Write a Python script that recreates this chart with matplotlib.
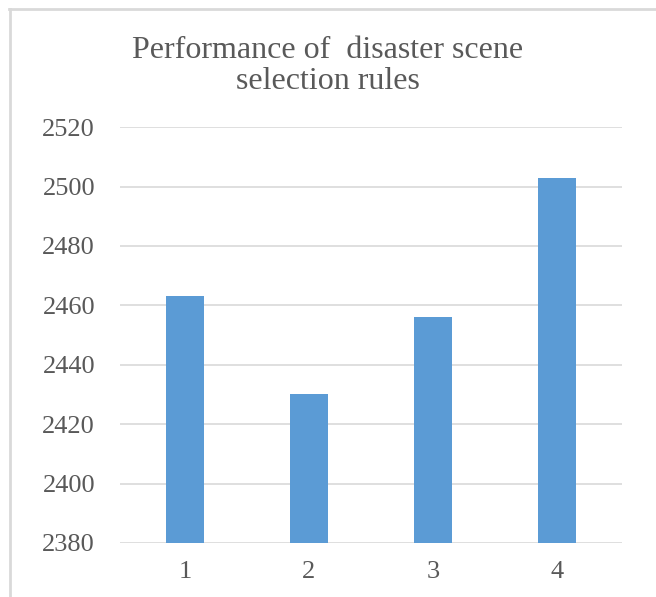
import numpy as np
import matplotlib
matplotlib.use("Agg")
from matplotlib import pyplot as plt
from matplotlib.lines import Line2D

# Scores for each selection rule
rules = ["1", "2", "3", "4"]
scores = [2463, 2430, 2456, 2503]
yticks = [2380, 2400, 2420, 2440, 2460, 2480, 2500, 2520]

plt.rcParams['font.family'] = ['Liberation Serif', 'DejaVu Serif']
textColor = '#595959'

fig = plt.figure(figsize=(6.56, 5.97), dpi=100)
ax = fig.add_axes([0.183, 0.0905, 0.765, 0.6965])

x = np.arange(len(rules))
ax.bar(x, scores, width=0.31, color='#5b9bd5', zorder=3)

ax.set_ylim(2380, 2520)
ax.set_xlim(-0.524, 3.524)
ax.set_yticks(yticks)
ax.set_xticks(x)
ax.set_xticklabels(rules)
ax.grid(axis='y', color='#d9d9d9', linewidth=1.2, zorder=0)
for s in ax.spines.values():
    s.set_visible(False)
ax.tick_params(axis='both', length=0, labelsize=19, colors=textColor)
ax.tick_params(axis='y', pad=18)
ax.tick_params(axis='x', pad=13)

fig.text(0.5, 0.89, "Performance of  disaster scene\nselection rules",
         ha='center', va='center', fontsize=23, color=textColor,
         linespacing=1.1)

# chart frame (top and left edges)
fig.add_artist(Line2D([0.014, 1.0], [0.985, 0.985], color='#d9d9d9', linewidth=2.0))
fig.add_artist(Line2D([0.015, 0.015], [0.0, 0.985], color='#d9d9d9', linewidth=2.0))

fig.savefig("out.png", dpi=100)
